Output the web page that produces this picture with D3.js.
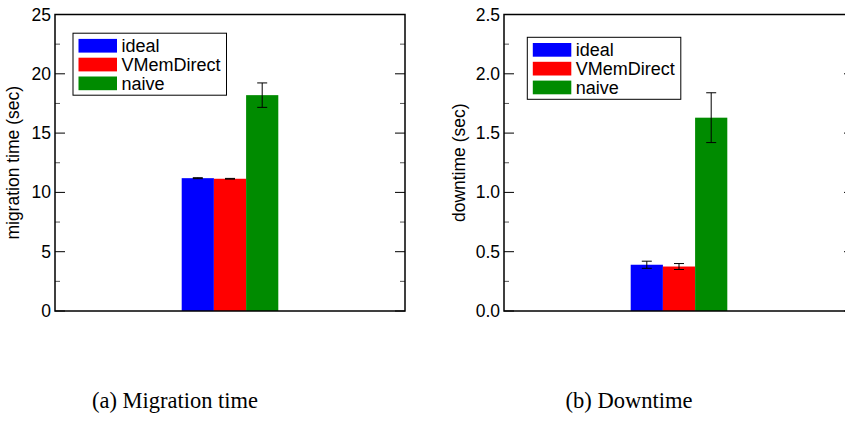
<!DOCTYPE html>
<html>
<head>
<meta charset="utf-8">
<script src="https://cdn.jsdelivr.net/npm/d3@7"></script>
<style>
  body { margin: 0; background: #fff; }
  svg { display: block; font-family: "Liberation Sans", Arial, Helvetica, sans-serif; }
</style>
</head>
<body>
<div id="chart"></div>
<script>
// series shown in both panels
const series = ['ideal', 'VMemDirect', 'naive']
const colors = ['rgb(0,0,255)', 'rgb(255,0,0)', 'rgb(0,139,0)']

// (a) migration time, mean and error (sec)
const migrationMean = [11.2, 11.15, 18.2]
const migrationErr = [0.04, 0.03, 1.03]
const migrationTicks = [0, 5, 10, 15, 20, 25]

// (b) downtime, mean and error (sec)
const downtimeMean = [0.39, 0.375, 1.63]
const downtimeErr = [0.03, 0.025, 0.21]
const downtimeTicks = [0, 0.5, 1.0, 1.5, 2.0, 2.5]

const W = 845, H = 428

const svg = d3.select('#chart').append('svg')
    .attr('width', W)
    .attr('height', H)

const colorScale = d3.scaleOrdinal().domain(series).range(colors)

function drawPanel(opts) {
    const { left, top, width, height, means, errs, ticks, yMax, tickFmt, yLabel, labelX, legendX, legendY, caption, captionX, captionW } = opts

    const g = svg.append('g').attr('transform', `translate(${left},${top})`)

    const y = d3.scaleLinear().domain([0, yMax]).range([height, 0])
    const x = d3.scaleLinear().domain([0, 2]).range([0, width])
    const xb = d3.scaleBand().domain(series).range([x(1 - 0.276), x(1 + 0.276)])

    const rows = series.map((s, i) => ({ name: s, mean: means[i], err: errs[i] }))

    // bars
    g.append('g').selectAll('rect')
        .data(rows)
        .enter()
        .append('rect')
        .attr('x', d => xb(d.name))
        .attr('y', d => y(d.mean))
        .attr('width', xb.bandwidth())
        .attr('height', d => y(0) - y(d.mean))
        .attr('fill', d => colorScale(d.name))

    // error bars
    const eb = g.append('g').attr('stroke', '#000').attr('stroke-width', 1)
    rows.forEach(d => {
        const cx = xb(d.name) + xb.bandwidth() / 2
        eb.append('line').attr('x1', cx).attr('x2', cx).attr('y1', y(d.mean + d.err)).attr('y2', y(d.mean - d.err))
        eb.append('line').attr('x1', cx - 5).attr('x2', cx + 5).attr('y1', y(d.mean + d.err)).attr('y2', y(d.mean + d.err))
        eb.append('line').attr('x1', cx - 5).attr('x2', cx + 5).attr('y1', y(d.mean - d.err)).attr('y2', y(d.mean - d.err))
    })

    // major + minor ticks, inside on both sides
    const minor = d3.pairs(ticks).map(p => (p[0] + p[1]) / 2)
    const tg = g.append('g').attr('stroke', '#000').attr('stroke-width', 1)
    ticks.forEach(t => {
        tg.append('line').attr('x1', 0).attr('x2', 10).attr('y1', y(t)).attr('y2', y(t))
        tg.append('line').attr('x1', width - 10).attr('x2', width).attr('y1', y(t)).attr('y2', y(t))
    })
    minor.forEach(t => {
        tg.append('line').attr('x1', 0).attr('x2', 5).attr('y1', y(t)).attr('y2', y(t)).attr('stroke', '#555')
        tg.append('line').attr('x1', width - 5).attr('x2', width).attr('y1', y(t)).attr('y2', y(t)).attr('stroke', '#555')
    })

    // tick labels
    g.append('g').selectAll('text')
        .data(ticks)
        .enter()
        .append('text')
        .attr('x', -4)
        .attr('y', d => y(d))
        .attr('text-anchor', 'end')
        .attr('dominant-baseline', 'central')
        .attr('font-size', 17.5)
        .text(tickFmt)

    // frame
    g.append('rect')
        .attr('width', width)
        .attr('height', height)
        .attr('fill', 'none')
        .attr('stroke', '#000')
        .attr('stroke-width', 1.5)

    // y label
    g.append('text')
        .attr('transform', `translate(${labelX},${height / 2}) rotate(-90)`)
        .attr('text-anchor', 'middle')
        .attr('font-size', 17.5)
        .text(yLabel)

    // legend
    const lg = g.append('g').attr('transform', `translate(${legendX},${legendY})`)
    lg.append('rect')
        .attr('width', 153.5)
        .attr('height', 62)
        .attr('fill', '#fff')
        .attr('stroke', '#000')
        .attr('stroke-width', 1)
    lg.selectAll('.sw')
        .data(series)
        .enter()
        .append('rect')
        .attr('class', 'sw')
        .attr('x', 5.5)
        .attr('y', (d, i) => 5.7 + i * 18.8)
        .attr('width', 38.5)
        .attr('height', 13.7)
        .attr('fill', d => colorScale(d))
    lg.selectAll('.lt')
        .data(series)
        .enter()
        .append('text')
        .attr('class', 'lt')
        .attr('x', 48.5)
        .attr('y', (d, i) => 5.7 + i * 18.8 + 7.3)
        .attr('dominant-baseline', 'central')
        .attr('font-size', 18)
        .text(d => d)

    // caption
    svg.append('text')
        .attr('x', captionX)
        .attr('y', 408)
        .attr('font-family', '"Liberation Serif", "Times New Roman", serif')
        .attr('font-size', 23)
        .attr('textLength', captionW)
        .attr('lengthAdjust', 'spacingAndGlyphs')
        .text(caption)
}

drawPanel({
    left: 55, top: 14.5, width: 350, height: 296.5,
    means: migrationMean, errs: migrationErr, ticks: migrationTicks, yMax: 25,
    tickFmt: d => d3.format('d')(d), yLabel: 'migration time (sec)', labelX: -36.5,
    legendX: 18, legendY: 18.7, caption: '(a) Migration time', captionX: 92, captionW: 166
})

drawPanel({
    left: 504, top: 14.5, width: 350, height: 296.5,
    means: downtimeMean, errs: downtimeErr, ticks: downtimeTicks, yMax: 2.5,
    tickFmt: d => d3.format('.1f')(d), yLabel: 'downtime (sec)', labelX: -39,
    legendX: 23.3, legendY: 22.8, caption: '(b) Downtime', captionX: 565.5, captionW: 127
})
</script>
</body>
</html>
